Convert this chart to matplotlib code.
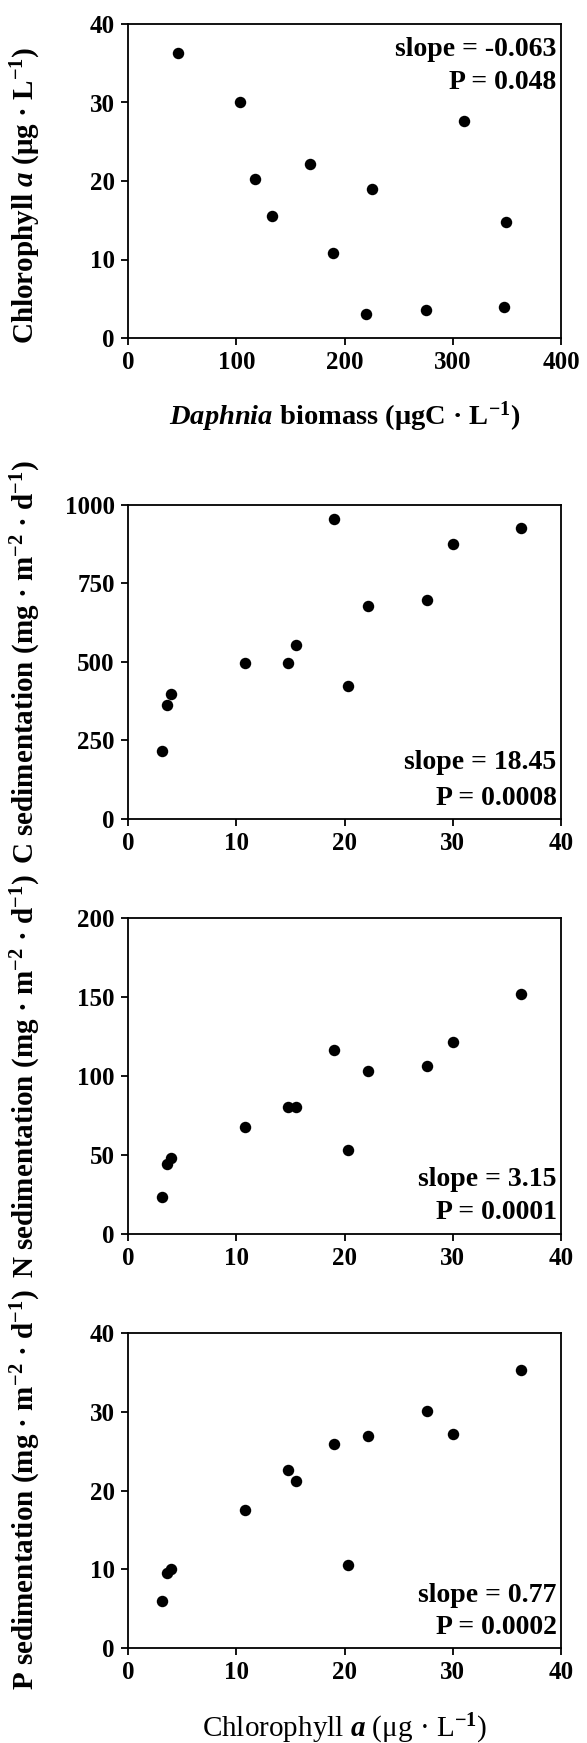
import matplotlib
matplotlib.use("Agg")
import matplotlib.pyplot as plt

# ---- data ----
chl = [3.1, 3.6, 4.0, 10.8, 14.8, 15.5, 19.0, 20.3, 22.2, 27.6, 30.0, 36.3]
daphnia = [219.6, 275, 347.7, 189.7, 349, 132.9, 225.1, 117, 168, 310.8, 103.3, 46.5]
c_sed = [216, 363, 398, 496, 496, 554, 956, 424, 679, 699, 876, 927]
n_sed = [23.6, 44, 48.2, 67.8, 80.4, 80.4, 116.2, 53, 103.4, 106.1, 121.3, 151.6]
p_sed = [6.0, 9.5, 10.0, 17.5, 22.6, 21.2, 25.9, 10.6, 26.9, 30.1, 27.2, 35.3]

ticks_daphnia = [0, 100, 200, 300, 400]
ticks_chl = [0, 10, 20, 30, 40]
ticks_c = [0, 250, 500, 750, 1000]
ticks_n = [0, 50, 100, 150, 200]
ticks_p = [0, 10, 20, 30, 40]

ann = [("slope = -0.063", "P = 0.048"),
       ("slope = 18.45", "P = 0.0008"),
       ("slope = 3.15", "P = 0.0001"),
       ("slope = 0.77", "P = 0.0002")]

ylabels = [r"Chlorophyll $\mathit{a}$ (μg · L$^{-1}$)",
           r"C sedimentation (mg · m$^{-2}$ · d$^{-1}$)",
           r"N sedimentation (mg · m$^{-2}$ · d$^{-1}$)",
           r"P sedimentation (mg · m$^{-2}$ · d$^{-1}$)"]

# ---- style ----
plt.rcParams['font.family'] = ['Liberation Serif', 'DejaVu Serif']
plt.rcParams['font.weight'] = 'bold'
plt.rcParams['mathtext.fontset'] = 'custom'
plt.rcParams['mathtext.rm'] = 'Liberation Serif:bold'
plt.rcParams['mathtext.bf'] = 'Liberation Serif:bold'
plt.rcParams['mathtext.it'] = 'Liberation Serif:italic:bold'

W, H = 587, 1743
fig = plt.figure(figsize=(W / 100, H / 100), dpi=100)
fig.patch.set_facecolor('white')

L, R = 128, 561
boxes = [(24, 338), (505, 819), (918, 1234), (1333, 1648)]
ylab_center = [195, 662, 1076, 1490]
ann_y = [(0.92, 0.815), (0.18, 0.064), (0.174, 0.067), (0.168, 0.064)]

xs = [daphnia, chl, chl, chl]
ys = [chl, c_sed, n_sed, p_sed]
xt = [ticks_daphnia, ticks_chl, ticks_chl, ticks_chl]
yt = [ticks_chl, ticks_c, ticks_n, ticks_p]

for i, (top, bot) in enumerate(boxes):
    ax = fig.add_axes([L / W, (H - bot) / H, (R - L) / W, (bot - top) / H])
    ax.scatter(xs[i], ys[i], s=68, color='black', zorder=3, clip_on=False, linewidths=0)
    ax.set_xlim(xt[i][0], xt[i][-1])
    ax.set_ylim(yt[i][0], yt[i][-1])
    ax.set_xticks(xt[i])
    ax.set_yticks(yt[i])
    ax.tick_params(direction='out', length=5, width=1.3, labelsize=18, pad=4.5)
    for lab in ax.get_xticklabels() + ax.get_yticklabels():
        lab.set_fontweight('bold')
    for sp in ax.spines.values():
        sp.set_linewidth(1.3)
    ax.text(0.99, ann_y[i][0], ann[i][0], transform=ax.transAxes, ha='right', va='center',
            fontsize=20, fontweight='bold')
    ax.text(0.99, ann_y[i][1], ann[i][1], transform=ax.transAxes, ha='right', va='center',
            fontsize=20, fontweight='bold')
    fig.text(26 / W, 1 - ylab_center[i] / H, ylabels[i], rotation=90, ha='center', va='center',
             fontsize=21, fontweight='bold')

xc = (L + R) / 2 / W
fig.text(xc, 1 - 425 / H, r"$\mathit{Daphnia}$ biomass (μgC · L$^{-1}$)", ha='center', va='baseline',
         fontsize=20.5, fontweight='bold')
fig.text(xc, 1 - 1737 / H, r"Chlorophyll $\mathit{a}$ (μg · L$^{-1}$)", ha='center', va='baseline',
         fontsize=21, fontweight='normal')

fig.savefig("out.png", dpi=100, facecolor='white')
